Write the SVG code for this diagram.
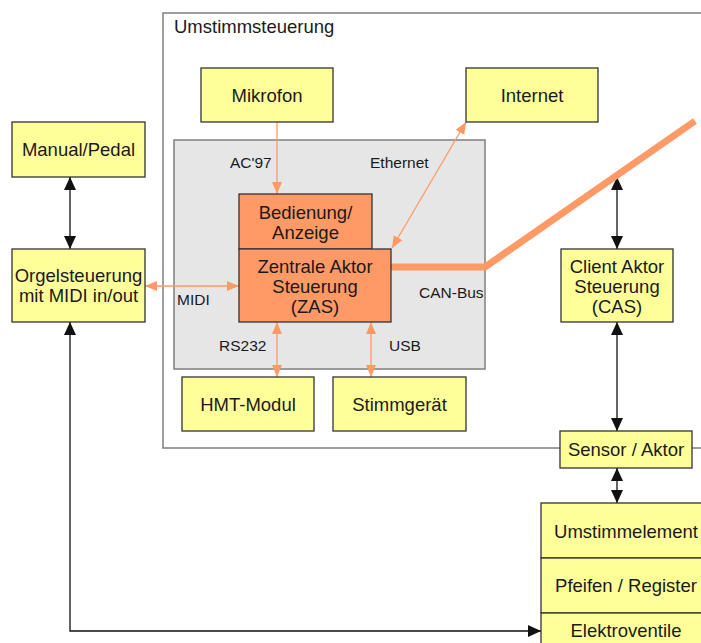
<svg xmlns="http://www.w3.org/2000/svg" width="701" height="643" viewBox="0 0 701 643">
<style>
.t{font-family:"Liberation Sans",Arial,sans-serif;font-size:18.5px;fill:#1a1a1a;text-anchor:middle}
.s{font-family:"Liberation Sans",Arial,sans-serif;font-size:15.5px;fill:#1a1a1a}
.y{fill:#ffff99;stroke:#333;stroke-width:1.3}
.o{fill:#ff9966;stroke:#333;stroke-width:1.3}
.k{stroke:#111;stroke-width:1.3;fill:none}
.oc{stroke:#ff9966;stroke-width:1.3;fill:none}
</style>
<defs>
<marker id="ak" markerUnits="userSpaceOnUse" markerWidth="14" markerHeight="13" refX="13" refY="6" orient="auto-start-reverse"><path d="M0,0 L13,6 L0,12 z" fill="#111"/></marker>
<marker id="ao" markerUnits="userSpaceOnUse" markerWidth="13" markerHeight="11" refX="12" refY="5" orient="auto-start-reverse"><path d="M0,0 L12,5 L0,10 z" fill="#ff9966"/></marker>
</defs>
<rect width="701" height="643" fill="#fff"/>
<g id="frame">
<rect x="163" y="13" width="560" height="435" fill="none" stroke="#7f7f7f" stroke-width="1.5"/>
<text class="s" x="174" y="33" style="font-size:18.5px">Umstimmsteuerung</text>
</g>
<g id="zas-area">
<rect x="174" y="140" width="311" height="229" fill="#e6e6e6" stroke="#7f7f7f" stroke-width="1.5"/>
</g>
<g id="connectors">
<path class="k" d="M617,468 L617,503" marker-start="url(#ak)" marker-end="url(#ak)"/>
<path class="k" d="M617,322 L617,431" marker-start="url(#ak)" marker-end="url(#ak)"/>
<path class="k" d="M617,177 L617,249" marker-start="url(#ak)" marker-end="url(#ak)"/>
<path class="k" d="M70,177 L70,249" marker-start="url(#ak)" marker-end="url(#ak)"/>
<path class="k" d="M70,322 L70,631 L541,631" marker-start="url(#ak)" marker-end="url(#ak)"/>
<path class="oc" d="M145,286 L239,286" marker-start="url(#ao)" marker-end="url(#ao)"/>
<path class="oc" d="M277,122 L277,194" marker-end="url(#ao)"/>
<path class="oc" d="M466,122 L392,248" marker-start="url(#ao)" marker-end="url(#ao)"/>
<path class="oc" d="M277,322 L277,377" marker-start="url(#ao)" marker-end="url(#ao)"/>
<path class="oc" d="M371,322 L371,377" marker-start="url(#ao)" marker-end="url(#ao)"/>
<path d="M391,267 L485,267 L695,121" fill="none" stroke="#ff9966" stroke-width="7"/>
<text class="s" x="230" y="168">AC'97</text>
<text class="s" x="370" y="168">Ethernet</text>
<text class="s" x="177" y="305">MIDI</text>
<text class="s" x="419" y="298">CAN-Bus</text>
<text class="s" x="219" y="351">RS232</text>
<text class="s" x="389" y="351">USB</text>
</g>
<g id="mikrofon"><rect class="y" x="201" y="68" width="132" height="54"/><text class="t" x="267" y="101.5">Mikrofon</text></g>
<g id="internet"><rect class="y" x="466" y="68" width="132" height="54"/><text class="t" x="532" y="101.5">Internet</text></g>
<g id="manual"><rect class="y" x="12" y="122" width="133" height="55"/><text class="t" x="78.5" y="156">Manual/Pedal</text></g>
<g id="orgel"><rect class="y" x="12" y="249" width="133" height="73"/><text class="t" x="78.5" y="282">Orgelsteuerung</text><text class="t" x="78.5" y="302">mit MIDI in/out</text></g>
<g id="bedienung"><rect class="o" x="239" y="194" width="133" height="55"/><text class="t" x="305.5" y="219">Bedienung/</text><text class="t" x="305.5" y="239">Anzeige</text></g>
<g id="zas"><rect class="o" x="239" y="249" width="152" height="73"/><text class="t" x="315" y="273">Zentrale Aktor</text><text class="t" x="315" y="293">Steuerung</text><text class="t" x="315" y="313">(ZAS)</text></g>
<g id="cas"><rect class="y" x="561" y="249" width="112" height="73"/><text class="t" x="617" y="273">Client Aktor</text><text class="t" x="617" y="293">Steuerung</text><text class="t" x="617" y="313">(CAS)</text></g>
<g id="hmt"><rect class="y" x="182" y="377" width="132" height="54"/><text class="t" x="248" y="410.5">HMT-Modul</text></g>
<g id="stimm"><rect class="y" x="333" y="377" width="133" height="54"/><text class="t" x="399.5" y="410.5">Stimmgerät</text></g>
<g id="sensor"><rect class="y" x="560" y="431" width="132" height="37"/><text class="t" x="626" y="456">Sensor / Aktor</text></g>
<g id="umstimm"><rect class="y" x="541" y="503" width="170" height="55"/><text class="t" x="626" y="538">Umstimmelement</text></g>
<g id="pfeifen"><rect class="y" x="541" y="558" width="170" height="55"/><text class="t" x="626" y="592">Pfeifen / Register</text></g>
<g id="elektro"><rect class="y" x="541" y="613" width="170" height="40"/><text class="t" x="626" y="637">Elektroventile</text></g>
</svg>
